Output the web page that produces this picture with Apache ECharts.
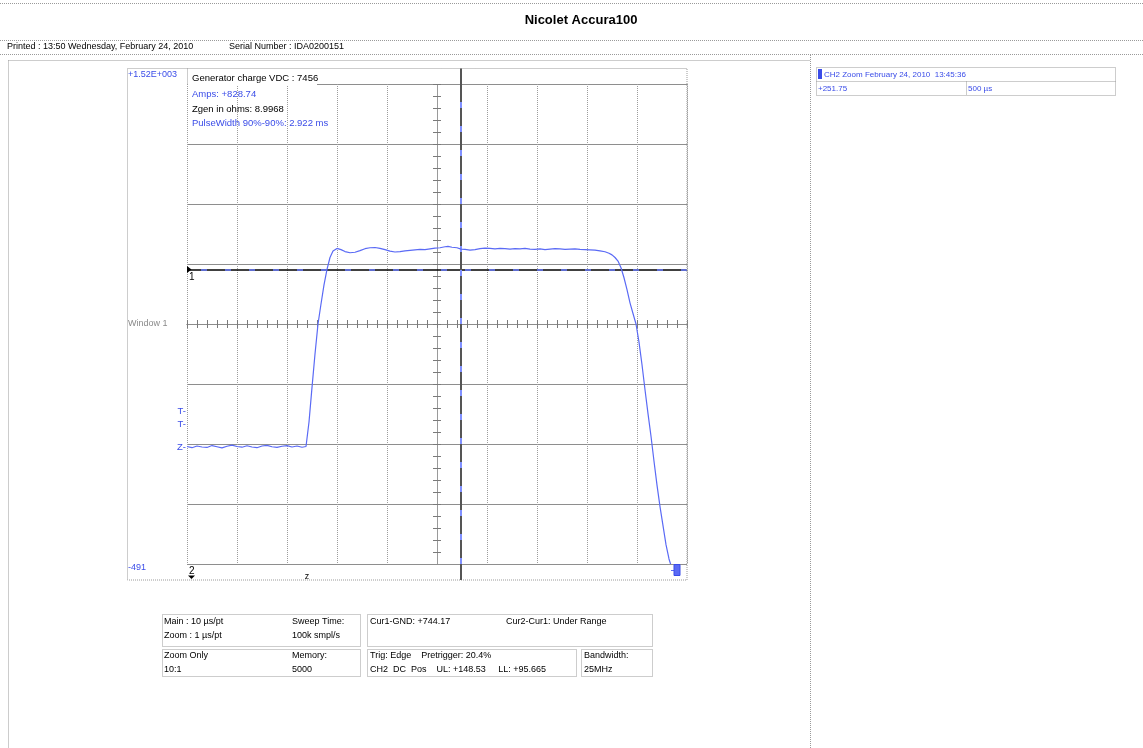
<!DOCTYPE html>
<html>
<head>
<meta charset="utf-8">
<script src="https://cdn.jsdelivr.net/npm/echarts@6/dist/echarts.min.js"></script>
<style>
  html, body { margin: 0; padding: 0; background: #fff; }
  #main { width: 1143px; height: 748px; }
</style>
</head>
<body>
<div id="main"></div>
<script>
// ---- CH2 capture (time in ms, value in the channel's units) ----
const timeMs = [
  0, 0.05, 0.1, 0.15, 0.2, 0.25, 0.3, 0.35, 0.4, 0.45, 0.5, 0.55, 0.6, 0.65, 0.7, 0.75,
  0.8, 0.85, 0.9, 0.95, 1.0, 1.05, 1.1, 1.15, 1.19,
  1.20, 1.22, 1.25, 1.28, 1.31, 1.34, 1.37, 1.40, 1.43, 1.46, 1.50,
  1.54, 1.58, 1.63, 1.68, 1.73, 1.78, 1.83, 1.88, 1.93, 1.98, 2.03, 2.08, 2.13, 2.18,
  2.23, 2.28, 2.33, 2.38, 2.43, 2.48, 2.53, 2.58, 2.61, 2.65, 2.70, 2.74, 2.78, 2.83,
  2.88, 2.93, 2.98, 3.03, 3.08, 3.13, 3.18, 3.23, 3.28, 3.33, 3.38, 3.43, 3.48, 3.53,
  3.58, 3.63, 3.68, 3.73, 3.78, 3.83, 3.88, 3.93, 3.98, 4.03, 4.08, 4.13, 4.18, 4.22,
  4.25, 4.28, 4.31, 4.34, 4.37, 4.40, 4.43, 4.46, 4.49, 4.52, 4.55, 4.58, 4.61, 4.64,
  4.67, 4.70, 4.73, 4.76, 4.79, 4.82, 4.85, 4.88
];
const ch2Values = [
  2, -3, 4, 0, -2, 6, 1, -4, 3, 8, 2, -1, 5, 0, -3, 4,
  7, 1, -2, 3, 6, 0, 4, -1, 2,
  0, 105, 250, 390, 516, 600, 680, 745, 795, 822, 833,
  828, 820, 815, 817, 824, 832, 836, 837, 833, 828, 822, 818, 820, 823,
  825, 827, 829, 828, 831, 834, 836, 840, 842, 838, 836, 830, 829, 826,
  828, 832, 834, 833, 831, 833, 832, 830, 832, 831, 833, 830, 829, 831,
  828, 830, 832, 831, 829, 830, 831, 829, 828, 827, 826, 823, 819, 813,
  806, 795, 780, 752, 710, 660, 605, 560, 516, 440, 345, 240, 140, 45,
  -60, -160, -250, -330, -410, -470, -510, -560
];

// ---- screen scales ----
const xRange = [0, 5];          // ms across the screen
const xDivision = 0.5;          // 500 µs / div
const yRange = [-491, 1523];    // bottom / top of the screen
const yDivision = 251.75;       // per div
const scaleLabels = ['+1.52E+003', '-491'];

// ---- cursors and markers ----
const cursor1Value = 744.17;
const cursorTime = 2.74;
const triggerLevels = [148.53, 95.665];   // UL, LL
const groundLevel = 0;
const zeroTime = 1.2;

// ---- readouts ----
const title = 'Nicolet Accura100';
const printedLine = 'Printed : 13:50 Wednesday, February 24, 2010';
const serialLine = 'Serial Number : IDA0200151';
const annotations = ['Generator charge VDC : 7456', 'Amps: +828.74', 'Zgen in ohms: 8.9968', 'PulseWidth 90%-90%: 2.922 ms'];
const channelHeader = 'CH2 Zoom February 24, 2010  13:45:36';
const channelScale = ['+251.75', '500 µs'];
const sweepInfo = ['Main : 10 µs/pt', 'Zoom : 1 µs/pt', 'Sweep Time:', '100k smpl/s'];
const cursorInfo = ['Cur1-GND: +744.17', 'Cur2-Cur1: Under Range'];
const memoryInfo = ['Zoom Only', '10:1', 'Memory:', '5000'];
const trigInfo = ['Trig: Edge    Pretrigger: 20.4%', 'CH2  DC  Pos    UL: +148.53     LL: +95.665'];
const bandwidthInfo = ['Bandwidth:', '25MHz'];

const TRACE = '#5a6af5';
const BLUE = '#3a4ce8';
const FONT = '"Liberation Sans", Arial, sans-serif';

const chart = echarts.init(document.getElementById('main'), null, { renderer: 'canvas' });

const GRID = { left: 187, top: 84, width: 500, height: 480 };

const hiddenAxis = (min, max) => ({
  type: 'value', gridIndex: 0, min, max, show: false,
  axisLine: { onZero: false }
});

// tick rails through the centre of the screen
const centerX = (inside) => ({
  type: 'value', gridIndex: 0, min: xRange[0], max: xRange[1], interval: 0.1,
  position: 'bottom',
  axisLine: { show: true, onZero: true, onZeroAxisIndex: 1, lineStyle: { color: '#8c8c8c', width: 1 } },
  axisTick: { show: true, inside, length: 4, lineStyle: { color: '#7a7a7a', width: 1 } },
  axisLabel: { show: false }, splitLine: { show: false }
});
const centerY = (inside) => ({
  type: 'value', gridIndex: 0, min: -4, max: 4, interval: 0.2,
  position: 'left',
  axisLine: { show: true, onZero: true, onZeroAxisIndex: 3, lineStyle: { color: '#9a9a9a', width: 1, type: 'dotted' } },
  axisTick: { show: true, inside, length: 4, lineStyle: { color: '#7a7a7a', width: 1 } },
  axisLabel: { show: false }, splitLine: { show: false }
});

chart.setOption({
  animation: false,
  backgroundColor: '#ffffff',
  grid: [Object.assign({ containLabel: false }, GRID)],
  xAxis: [
    {
      type: 'value', gridIndex: 0, min: xRange[0], max: xRange[1], interval: xDivision,
      axisLine: { show: false, onZero: false }, axisTick: { show: false }, axisLabel: { show: false },
      splitLine: { show: true, lineStyle: { color: '#9c9c9c', width: 1, type: 'dotted' } }
    },
    centerX(false),
    centerX(true),
    hiddenAxis(-5, 5)
  ],
  yAxis: [
    {
      type: 'value', gridIndex: 0, min: yRange[0], max: yRange[1], interval: yDivision,
      axisLine: { show: false, onZero: false }, axisTick: { show: false }, axisLabel: { show: false },
      splitLine: { show: true, lineStyle: { color: '#8e8e8e', width: 1 } }
    },
    hiddenAxis(-4, 4),
    centerY(false),
    centerY(true)
  ],
  series: [{
    name: 'CH2',
    type: 'line',
    xAxisIndex: 0, yAxisIndex: 0,
    data: timeMs.map((t, i) => [t, ch2Values[i]]),
    showSymbol: false,
    clip: true,
    z: 5,
    lineStyle: { color: TRACE, width: 1.2 },
    markLine: {
      silent: true, symbol: ['none', 'none'], label: { show: false }, animation: false,
      data: [
        { yAxis: cursor1Value, lineStyle: { color: '#000', width: 1.5, type: 'solid' } },
        { yAxis: cursor1Value, lineStyle: { color: '#6a7cff', width: 1.5, type: [6, 18], dashOffset: -14 } },
        { xAxis: cursorTime, lineStyle: { color: '#555', width: 2, type: 'solid' } },
        { xAxis: cursorTime, lineStyle: { color: '#8090ff', width: 2, type: [6, 18] } }
      ]
    }
  }]
});

// ---- page furniture drawn around the plot ----
const g = [];
const txt = (x, y, s, o = {}) => g.push({
  type: 'text', z: 60,
  style: {
    text: s, x, y, fill: o.fill || '#000', align: o.align || 'left', verticalAlign: 'middle',
    font: (o.weight || 'normal') + ' ' + (o.size || 9) + 'px ' + FONT
  }
});
const line = (x1, y1, x2, y2, o = {}) => g.push({
  type: 'line', z: o.z || 55,
  shape: { x1, y1, x2, y2 },
  style: { stroke: o.stroke || '#9a9a9a', lineWidth: o.w || 1, lineDash: o.dash === undefined ? [1, 1] : o.dash }
});
const box = (x, y, w, h, o = {}) => g.push({
  type: 'rect', z: o.z || 55,
  shape: { x, y, width: w, height: h },
  style: { fill: o.fill || null, stroke: o.stroke === undefined ? '#9a9a9a' : o.stroke, lineWidth: 1, lineDash: o.dash === undefined ? [1, 1] : o.dash }
});

// header
line(0, 3.5, 1143, 3.5);
txt(581, 20, title, { size: 13, weight: 'bold', align: 'center' });
line(0, 40.5, 1143, 40.5);
txt(7, 47, printedLine, { size: 9 });
txt(229, 47, serialLine, { size: 9 });
line(0, 54.5, 1143, 54.5);

// page panels
line(8.5, 60.5, 810.5, 60.5);
line(8.5, 60.5, 8.5, 748);
line(810.5, 55, 810.5, 748);

// scope frame around the plot
box(127.5, 68.5, 559.5, 511.5);
line(187.5, 68.5, 187.5, 84.5);
line(187.5, 564.5, 687, 564.5, { dash: null, stroke: '#8e8e8e' });

// annotation block at the top of the screen
box(188, 69, 129, 16, { fill: '#fff', stroke: null, z: 52 });
txt(192, 78, annotations[0], { size: 9.5 });
txt(192, 94, annotations[1], { size: 9.5, fill: BLUE });
txt(192, 109, annotations[2], { size: 9.5 });
txt(192, 123.5, annotations[3], { size: 9.5, fill: BLUE });

// scale labels at the left edge
txt(128, 75, scaleLabels[0], { size: 9, fill: BLUE });
txt(128, 568, scaleLabels[1], { size: 9, fill: BLUE });

// right channel panel
box(816.5, 67.5, 299, 28);
line(816.5, 81.5, 1115.5, 81.5);
line(966.5, 81.5, 966.5, 95.5);
g.push({ type: 'rect', z: 60, shape: { x: 818, y: 69, width: 4, height: 10 }, style: { fill: '#3a4ce8' } });
txt(824, 74.5, channelHeader, { size: 8, fill: BLUE });
txt(818, 88.5, channelScale[0], { size: 8, fill: BLUE });
txt(968, 88.5, channelScale[1], { size: 8, fill: BLUE });

// readout boxes under the plot
box(162.5, 614.5, 198, 32);
txt(164, 622, sweepInfo[0]); txt(164, 636, sweepInfo[1]);
txt(292, 622, sweepInfo[2]); txt(292, 636, sweepInfo[3]);
box(367.5, 614.5, 285, 32);
txt(370, 622, cursorInfo[0]); txt(506, 622, cursorInfo[1]);
box(162.5, 649.5, 198, 27);
txt(164, 655.5, memoryInfo[0]); txt(164, 669.5, memoryInfo[1]);
txt(292, 655.5, memoryInfo[2]); txt(292, 669.5, memoryInfo[3]);
box(367.5, 649.5, 209, 27);
txt(370, 655.5, trigInfo[0]); txt(370, 669.5, trigInfo[1]);
box(581.5, 649.5, 71, 27);
txt(584, 655.5, bandwidthInfo[0]); txt(584, 669.5, bandwidthInfo[1]);

// markers that sit on the data scales
const px = (t, v) => chart.convertToPixel({ xAxisIndex: 0, yAxisIndex: 0 }, [t, v]);
const yUL = px(0, triggerLevels[0])[1];
const yLL = px(0, triggerLevels[1])[1];
const yGnd = px(0, groundLevel)[1];
const yCur = px(0, cursor1Value)[1];
const xCur = px(cursorTime, 0)[0];
const xZero = px(zeroTime, 0)[0];
const leftX = px(xRange[0], 0)[0];
const rightX = px(xRange[1], 0)[0];

txt(128, px(0, (yRange[0] + yRange[1]) / 2)[1], 'Window 1', { size: 9, fill: '#8a8a8a' });
txt(186, yUL, 'T-', { size: 9.5, fill: BLUE, align: 'right' });
txt(186, yLL, 'T-', { size: 9.5, fill: BLUE, align: 'right' });
txt(186, yGnd, 'Z-', { size: 9.5, fill: BLUE, align: 'right' });

// cursor 1 handle
g.push({ type: 'polygon', z: 60, shape: { points: [[leftX, yCur - 3.5], [leftX + 4.5, yCur], [leftX, yCur + 3.5]] }, style: { fill: '#000' } });
txt(leftX + 2, yCur + 8, '1', { size: 10 });
// vertical cursor continues through the frame rows
line(xCur, 68.5, xCur, 84, { dash: null, stroke: '#555', w: 2 });
line(xCur, 564, xCur, 580, { dash: null, stroke: '#555', w: 2 });
// cursor 2 handle and zero-time tag on the bottom rail
txt(leftX + 2, 571, '2', { size: 10 });
g.push({ type: 'polygon', z: 60, shape: { points: [[leftX + 1, 575.5], [leftX + 8, 575.5], [leftX + 4.5, 579]] }, style: { fill: '#000' } });
txt(xZero, 577, 'z', { size: 9, align: 'center' });
// channel tag at the end of the trace
line(rightX - 16, 570.5, rightX - 11, 570.5, { dash: null, stroke: TRACE });
g.push({ type: 'rect', z: 60, shape: { x: rightX - 13, y: 564.5, width: 6, height: 11 }, style: { fill: '#5a6af5', stroke: '#3a4ce8' } });

chart.setOption({ graphic: { elements: g } });
</script>
</body>
</html>
